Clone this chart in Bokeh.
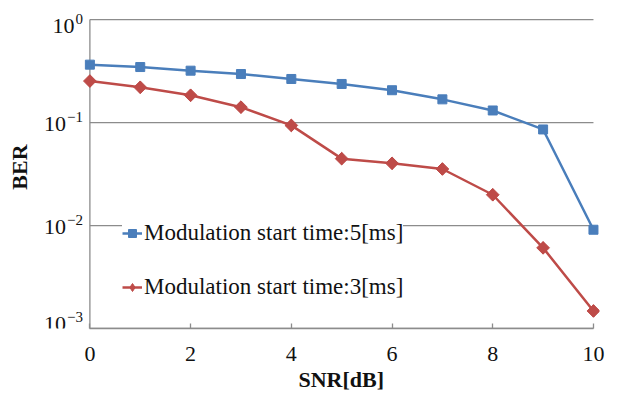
import numpy as np
from bokeh.plotting import figure
from bokeh.models import (Range1d, CustomJSTickFormatter, FixedTicker, Legend, LegendItem,
                          ColumnDataSource, Title)
from bokeh.core.properties import value
from bokeh.embed import file_html
from bokeh.resources import INLINE

snr = [0, 1, 2, 3, 4, 5, 6, 7, 8, 9, 10]
ber_5ms = [0.365, 0.346, 0.319, 0.296, 0.265, 0.237, 0.206, 0.168, 0.131, 0.0857, 0.0091]
ber_3ms = [0.253, 0.220, 0.184, 0.141, 0.0938, 0.0446, 0.0402, 0.0354, 0.0199, 0.00607, 0.00148]
x_ticks = [0, 2, 4, 6, 8, 10]
y_ticks = [1, 0.1, 0.01, 0.001]
y_tick_base = ["10", "10", "10", "10"]
y_tick_exp = ["0", "\u22121", "\u22122", "\u22123"]
series_labels = ["Modulation start time:5[ms]", "Modulation start time:3[ms]"]

BLUE = "#4a7ebb"
RED = "#be4b48"
GRID = "#8c8c8c"
FONT = "Liberation Serif"
TXT = "#111111"

LEFT_EXTRA = 1.08   # room inside the frame for the y tick labels
p = figure(width=622, height=399, y_axis_type="log",
           x_range=Range1d(-LEFT_EXTRA, 10.12), y_range=Range1d(0.001, 1.37),
           output_backend="svg", toolbar_location=None,
           min_border_left=35, min_border_right=23, min_border_top=5, min_border_bottom=71)
p.outline_line_color = None
p.xgrid.visible = False
p.ygrid.visible = False

# horizontal grid lines at decade ticks, spanning the data extent
p.segment(x0=[snr[0]] * len(y_ticks), x1=[snr[-1]] * len(y_ticks), y0=y_ticks, y1=y_ticks,
          line_color=GRID, line_width=1.3)
# left axis line at SNR = first category
p.segment(x0=[snr[0]], x1=[snr[0]], y0=[y_ticks[-1]], y1=[y_ticks[0]],
          line_color=GRID, line_width=1.3)

r1 = p.line(snr, ber_5ms, line_color=BLUE, line_width=2.5)
s1 = p.scatter(snr, ber_5ms, marker="square", size=9, fill_color=BLUE, line_color=BLUE)
r2 = p.line(snr, ber_3ms, line_color=RED, line_width=2.5)
s2_leg = p.scatter(snr, ber_3ms, marker="diamond", size=12, fill_color=RED, line_color=RED)
s2 = p.scatter(snr, ber_3ms, marker="square", angle=np.pi / 4, size=9, fill_color=RED, line_color=RED)

# y tick labels: "10" with raised exponent, drawn at the left axis
EXP_SIZE = 15
n = len(y_ticks)
shift = [5 if i == 0 else (-6 if i == n - 1 else 0) for i in range(n)]
exp_w = [sum(0.564 if c == "\u2212" else 0.5 for c in e) * EXP_SIZE for e in y_tick_exp]
exp_src = ColumnDataSource(dict(x=[snr[0]] * n, y=y_ticks, text=y_tick_exp,
                                xo=[-7] * n, yo=[s - 6 for s in shift]))
base_src = ColumnDataSource(dict(x=[snr[0]] * n, y=y_ticks, text=y_tick_base,
                                 xo=[-8 - w for w in exp_w], yo=[s + 1 for s in shift]))
p.text(x="x", y="y", text="text", x_offset="xo", y_offset="yo", source=exp_src,
       text_align="right", text_baseline="middle", text_font=value(FONT),
       text_font_size=f"{EXP_SIZE}px", text_color=TXT)
p.text(x="x", y="y", text="text", x_offset="xo", y_offset="yo", source=base_src,
       text_align="right", text_baseline="middle", text_font=value(FONT),
       text_font_size="22px", text_color=TXT)

xa = p.xaxis[0]
xa.ticker = FixedTicker(ticks=x_ticks)
xa.bounds = (snr[0], snr[-1])
xa.axis_line_color = GRID
xa.axis_line_width = 1.3
xa.major_tick_in = 5
xa.major_tick_out = 0
xa.major_tick_line_color = GRID
xa.major_tick_line_width = 1.3
xa.minor_tick_line_color = None
xa.major_label_text_font = FONT
xa.major_label_text_font_size = "22px"
xa.major_label_text_color = TXT
xa.major_label_standoff = 18

# x axis title, placed under the middle of the data extent (0..10)
x_title = Title(text="SNR[dB]", align="left", offset=263, standoff=2,
                text_font=FONT, text_font_style="bold", text_font_size="22px",
                text_color=TXT)
p.add_layout(x_title, "below")

ya = p.yaxis[0]
ya.ticker = FixedTicker(ticks=y_ticks)
ya.formatter = CustomJSTickFormatter(code="return '';")
ya.axis_line_color = None
ya.major_tick_in = 0
ya.major_tick_out = 0
ya.major_tick_line_color = None
ya.minor_tick_line_color = None
ya.major_label_standoff = 0
ya.axis_label = "BER"
ya.axis_label_text_font = FONT
ya.axis_label_text_font_style = "bold"
ya.axis_label_text_font_size = "22px"
ya.axis_label_text_color = TXT
ya.axis_label_standoff = 4

legend = Legend(items=[LegendItem(label=series_labels[0], renderers=[r1, s1]),
                       LegendItem(label=series_labels[1], renderers=[r2, s2_leg])],
                location=(87, 28))
legend.glyph_width = 20
legend.glyph_height = 24
legend.label_height = 24
legend.spacing = 28
legend.padding = 6
legend.margin = 0
legend.label_standoff = 2
legend.label_text_font = FONT
legend.label_text_font_size = "23px"
legend.label_text_color = TXT
legend.background_fill_color = "white"
legend.background_fill_alpha = 1.0
legend.border_line_color = None
p.add_layout(legend)

open("out.html", "w").write(file_html(p, INLINE))
